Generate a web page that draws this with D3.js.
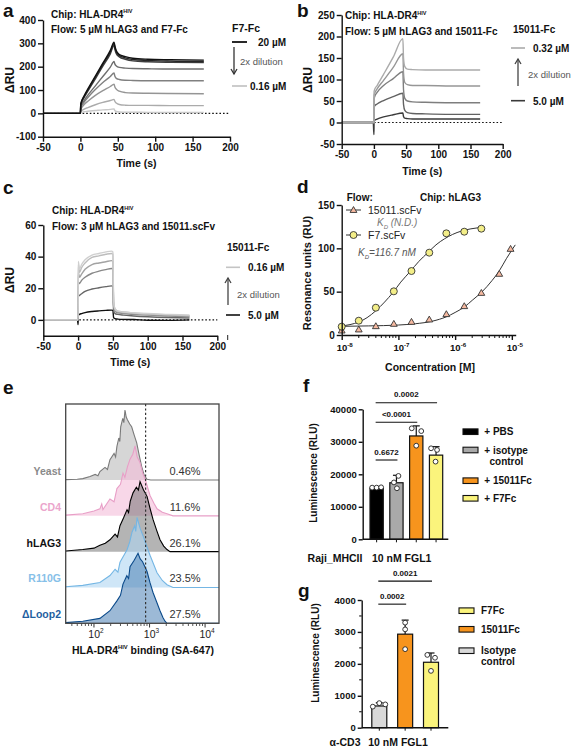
<!DOCTYPE html>
<html><head><meta charset="utf-8">
<script src="https://cdn.jsdelivr.net/npm/d3@7"></script>
<style>body{margin:0;background:#fff} svg{display:block;background:#fff}</style>
</head><body><svg id="fig" width="575" height="750"></svg>
<script>
// ================= DATA =================
// Panel a: SPR, F7-Fc (20 µM -> 0.16 µM)
const timeA = [-50,-1,0,0.5,5,10,20,30,40,45,46,48,52,60,70,90,120,165];
const concA = ["20 µM","10 µM","5 µM","2.5 µM","1.25 µM","0.63 µM","0.31 µM","0.16 µM"];
const respA = [
  [0,0,0,40,75,105,160,215,270,305,290,268,252,243,236,232,230,228],
  [0,0,0,38,72,100,155,210,263,300,284,263,248,238,231,227,224,222],
  [0,0,0,35,68,95,148,202,255,292,275,256,242,232,225,221,219,218],
  [0,0,0,30,55,78,118,158,198,222,212,203,197,194,192,191,190,190],
  [0,0,0,22,48,68,102,132,158,173,160,150,145,142,141,140,140,140],
  [0,0,0,15,38,52,77,97,115,125,114,104,95,89,87,86,85,84],
  [0,0,0,8,18,25,37,47,55,60,52,44,38,35,34,34,33,33],
  [0,0,0,3,7,9,12,15,17,19,12,8,6,5,5,4,4,4]
];
// Panel b: SPR, 15011-Fc (0.32 µM -> 5.0 µM)
const timeB = [-50,-1,0,0.3,1,5,15,30,45,46,48,52,60,80,120,165];
const concB = ["0.32 µM","0.63 µM","1.25 µM","2.5 µM","5.0 µM"];
const respB = [
  [0,0,0,72,76,86,112,152,195,150,130,124,123,122,122,122],
  [0,0,0,63,67,78,98,128,160,115,93,88,86,86,85,85],
  [0,0,0,55,59,70,86,102,118,76,56,50,48,47,46,46],
  [0,0,0,35,38,43,51,60,68,42,28,23,21,20,19,19],
  [0,0,-28,3,5,8,13,18,22,14,10,9,8,8,8,8]
];
// Panel c: SPR, 15011.scFv (0.16 µM -> 5.0 µM)
const timeC = [-50,-1,0,0.3,2,5,10,20,30,40,48,50,51,53,57,65,80,100,130,160];
const concC = ["0.16 µM","0.31 µM","0.63 µM","1.25 µM","2.5 µM","5.0 µM"];
const respC = [
  [0,0,0,37,32,35,38,41,42,43,43.5,43,12,7,5.5,5,4.5,4,3.5,3],
  [0,0,0,35,30,33,36,39.5,40.5,41.5,42,41.5,11,7,5.5,5,4.3,3.8,3.2,2.8],
  [0,0,0,30,27,29,32,35,36,36.8,37.5,37,10,6,5,4.5,4,3.5,3,2.5],
  [0,0,0,24,23,25,27,29.5,30.8,31.8,32.5,32,9,5.5,4.5,4,3.5,3,2.5,2],
  [0,0,0,15,15.5,16.5,18,19.5,20.3,21,21.5,21,6,4,3.5,3,2.5,2,1.5,1.2],
  [0,0,-3,3,3.5,4,4.6,5.3,5.7,6,6.2,6,1.5,0.8,0.5,0.3,0.2,-0.2,-0.3,0]
];
const timeTicks = [-50,0,50,100,150,200];

// Panel d: steady-state binding
const concD = [1e-8,2e-8,4e-8,8.3e-8,1.7e-7,3.5e-7,7e-7,1.45e-6,2.9e-6,6e-6,9.5e-6];
const f7RU = [9.6,16.5,31.5,50.4,73.8,95,117.3,119.2,122.7];
const s15011RU = [4.6,5.8,9.6,12.3,14.6,17.3,23.5,32.7,48,70,98.8];
const f7FitConc = [1e-8,1.4e-8,2e-8,2.8e-8,4e-8,5.7e-8,8e-8,1.1e-7,1.6e-7,2.3e-7,3.3e-7,4.6e-7,6.5e-7,9e-7,1.3e-6,1.9e-6,2.7e-6];
const f7FitRU = [10.5,12,15,20,28,38,49,61,73,85,95,104,111,116,120,122.5,124];
const s15011FitConc = [1e-8,3e-8,1e-7,2e-7,4e-7,7e-7,1e-6,1.5e-6,2e-6,3e-6,4.5e-6,6e-6,8e-6,1e-5,1.15e-5];
const s15011FitRU = [10,10.5,11.5,13,16,21,26,33,40,50,63,74,88,98,104];

// Panel e: flow histograms [intensity, % of mode]
const samplesE = ["Yeast","CD4","hLAG3","R110G","ΔLoop2"];
const pctE = ["0.46%","11.6%","26.1%","23.5%","27.5%"];
const histYeast = [[31,0.5],[50,1],[63,2],[85,5],[105,8],[118,6],[128,12],[158,18],[175,15],[194,29],[230,38],[245,33],[259,48],[280,60],[292,55],[303,76],[330,88],[345,82],[362,100],[380,90],[400,86],[440,80],[477,76],[530,64],[588,53],[650,36],[723,19],[800,7],[902,1],[1050,0],[17800,0]];
const histCD4 = [[31,1],[63,3],[100,7],[128,10],[138,17],[145,9],[194,24],[230,20],[259,39],[300,45],[333,61],[360,55],[400,70],[446,81],[500,88],[548,100],[600,84],[675,76],[760,60],[830,53],[930,40],[1021,29],[1200,18],[1365,10],[1700,5],[2065,3],[2649,0],[17800,0]];
const histLAG3 = [[31,1],[63,3],[100,5],[128,9],[160,12],[194,17],[240,25],[265,21],[294,37],[340,48],[394,60],[420,56],[450,72],[505,84],[580,92],[630,88],[675,100],[780,88],[902,79],[1020,62],[1156,46],[1350,30],[1545,17],[1800,8],[2065,3],[2338,0],[17800,0]];
const histR110G = [[31,1],[63,3],[128,7],[194,17],[240,26],[270,22],[294,36],[394,54],[440,65],[484,79],[540,88],[565,80],[596,100],[680,84],[764,74],[880,60],[1021,46],[1200,32],[1365,21],[1700,10],[2065,4],[2649,0],[17800,0]];
const histLoop2 = [[31,1],[63,3],[128,7],[194,18],[259,32],[300,40],[333,56],[390,68],[420,64],[446,81],[530,90],[621,100],[680,92],[750,88],[902,74],[1020,58],[1156,44],[1350,30],[1545,18],[1750,8],[1901,3],[2065,0],[17800,0]];
const gateE = 850;
const ticksE = [100,1000,10000];

// Panel f
const groupsF = ["+ PBS","+ isotype control","+ 15011Fc","+ F7Fc"];
const meanF = [15700,17400,31800,25900];
const errTopF = [16100,19700,34900,28500];
const pointsF = [[15900,15900,16000],[19500,17500,15700],[34150,33300,28800],[28000,27500,23900]];
const sigF = [[0,1,"0.6672",24400],[0,2,"<0.0001",36000],[0,3,"0.0002",42000]];
const ticksF = [0,10000,20000,30000,40000];

// Panel g
const groupsG = ["Isotype control","15011Fc","F7Fc"];
const meanG = [680,2930,2050];
const errTopG = [780,3370,2340];
const pointsG = [[660,770,730],[3290,3080,2460],[2280,2190,1780]];
const sigG = [[0,1,"0.0002",3870],[0,2,"0.0021",4590]];
const ticksG = [0,1000,2000,3000,4000];

// ================= DRAW =================
const FONT = '"Liberation Sans", Arial, Helvetica, sans-serif';
const svg = d3.select("#fig").attr("font-family", FONT);
const plain = d => String(d);

function rich(g, x, y, segs, o = {}) {
  const size = o.size || 10;
  const t = g.append("text").attr("x", x).attr("y", y)
    .attr("font-size", size).attr("font-weight", o.weight || "bold")
    .attr("fill", o.fill || "#111").attr("text-anchor", o.anchor || "start")
    .attr("font-family", FONT);
  if (o.italic) t.attr("font-style", "italic");
  if (o.rotate) t.attr("transform", `rotate(-90,${x},${y})`);
  let shift = 0;
  segs.forEach(s => {
    if (typeof s === "string") s = { t: s };
    const ts = t.append("tspan").text(s.t);
    const target = s.sup ? -(s.up || 0.45) * size : s.sub ? 0.3 * size : 0;
    if (target - shift !== 0) ts.attr("dy", target - shift);
    shift = target;
    if (s.sup || s.sub) ts.attr("font-size", size * (s.scale || 0.6));
    if (s.fill) ts.attr("fill", s.fill);
    if (s.style) ts.attr("font-style", s.style);
    if (s.weight) ts.attr("font-weight", s.weight);
  });
  return t;
}
function styleAxis(g, fs = 10) {
  g.attr("font-family", FONT);
  g.select(".domain").attr("stroke", "#111").attr("stroke-width", 1.4);
  g.selectAll(".tick line").attr("stroke", "#111").attr("stroke-width", 1.4);
  g.selectAll(".tick text").attr("font-size", fs).attr("font-weight", "bold").attr("fill", "#111");
}
function panelLetter(x, y, s) { rich(svg, x, y, [s], { size: 19 }); }
function arrow(g, x, y1, y2, color) {
  g.append("line").attr("x1", x).attr("x2", x).attr("y1", y1).attr("y2", y2).attr("stroke", color).attr("stroke-width", 1.3);
  const d = y2 > y1 ? -5 : 5;
  g.append("path").attr("d", `M${x - 3},${y2 + d} L${x},${y2} L${x + 3},${y2 + d}`).attr("fill", "none").attr("stroke", color).attr("stroke-width", 1.3);
}

// ---------- SPR panels ----------
function spr(c) {
  const g = svg.append("g");
  const x = d3.scaleLinear().domain([-50, 200]).range(c.xr);
  const y = d3.scaleLinear().domain(c.yd).range(c.yr);
  g.append("line").attr("x1", x(-50)).attr("x2", x(200)).attr("y1", y(0)).attr("y2", y(0))
    .attr("stroke", "#111").attr("stroke-width", 1.2).attr("stroke-dasharray", "1.6,2");
  const line = d3.line().x((d, i) => x(c.t[i])).y(d => y(d)).curve(d3.curveMonotoneX);
  c.resp.map((r, i) => i).reverse().forEach(i => {
    g.append("path").attr("d", line(c.resp[i])).attr("fill", "none")
      .attr("stroke", c.colors[i]).attr("stroke-width", 1.4);
  });
  const ya = g.append("g").attr("transform", `translate(${c.xr[0]},0)`)
    .call(d3.axisLeft(y).tickValues(c.yticks).tickFormat(plain).tickSize(5).tickSizeOuter(0).tickPadding(2));
  styleAxis(ya);
  const xa = g.append("g").attr("transform", `translate(0,${c.yr[0]})`)
    .call(d3.axisBottom(x).tickValues(timeTicks).tickFormat(plain).tickSize(5).tickSizeOuter(0).tickPadding(2));
  styleAxis(xa);
  rich(g, (c.xr[0] + c.xr[1]) / 2, c.yr[0] + 30.5, ["Time (s)"], { size: 10.5, anchor: "middle" });
  rich(g, c.ylx, c.yly, ["ΔRU"], { size: 12, anchor: "middle", rotate: true });
  rich(g, c.tx, c.ty, [{ t: "Chip: HLA-DR4" }, { t: "HIV", sup: true, scale: 0.55 }], { size: 10 });
  rich(g, c.tx, c.ty + 15.5, [c.flow], { size: 10 });
  return g;
}

const colA = ["#111", "#262626", "#3d3d3d", "#6e6e6e", "#808080", "#959595", "#ababab", "#c8c8c8"];
const gA = spr({ xr: [43, 230], yd: [-100, 400], yr: [136.7, 20], yticks: [-100, 0, 100, 200, 300, 400],
  t: timeA, resp: respA, colors: colA, ylx: 14, yly: 80, tx: 51, ty: 17.5, flow: "Flow: 5 µM hLAG3 and F7-Fc" });
rich(gA, 232, 32, ["F7-Fc"], { size: 10.5 });
gA.append("line").attr("x1", 232).attr("x2", 247).attr("y1", 42).attr("y2", 42).attr("stroke", "#111").attr("stroke-width", 1.8);
rich(gA, 258, 46, [concA[0]], { size: 10 });
arrow(gA, 234, 47, 74, "#333");
rich(gA, 240, 64.5, ["2x dilution"], { size: 9.5, weight: "normal", fill: "#555" });
gA.append("line").attr("x1", 232).attr("x2", 247).attr("y1", 86).attr("y2", 86).attr("stroke", "#c0c0c0").attr("stroke-width", 1.6);
rich(gA, 250, 90, [concA[7]], { size: 10 });

const colB = ["#ababab", "#969696", "#7e7e7e", "#626262", "#3a3a3a"];
const gB = spr({ xr: [341.7, 502.7], yd: [-50, 250], yr: [144, 15], yticks: [-50, 0, 50, 100, 150, 200, 250],
  t: timeB, resp: respB, colors: colB, ylx: 312, yly: 80, tx: 345, ty: 19, flow: "Flow: 5 µM hLAG3 and 15011-Fc" });
rich(gB, 513, 33, ["15011-Fc"], { size: 10 });
gB.append("line").attr("x1", 511).attr("x2", 525).attr("y1", 48).attr("y2", 48).attr("stroke", "#aaa").attr("stroke-width", 1.6);
rich(gB, 533, 52, [concB[0]], { size: 10 });
arrow(gB, 518, 86, 59, "#444");
rich(gB, 528, 78, ["2x dilution"], { size: 9.5, weight: "normal", fill: "#555" });
gB.append("line").attr("x1", 511).attr("x2", 525).attr("y1", 100.7).attr("y2", 100.7).attr("stroke", "#3a3a3a").attr("stroke-width", 1.6);
rich(gB, 533, 104.7, [concB[4]], { size: 10 });

const colC = ["#cfcfcf", "#bdbdbd", "#a3a3a3", "#888", "#666", "#111"];
const gC = spr({ xr: [43.3, 217.3], yd: [-10, 60], yr: [335.7, 225], yticks: [0, 20, 40, 60],
  t: timeC, resp: respC, colors: colC, ylx: 14, yly: 280, tx: 52, ty: 214, flow: "Flow: 3 µM hLAG3 and 15011.scFv" });
rich(gC, 227, 250.5, ["15011-Fc"], { size: 10 });
gC.append("line").attr("x1", 226).attr("x2", 240).attr("y1", 267.3).attr("y2", 267.3).attr("stroke", "#c4c4c4").attr("stroke-width", 1.6);
rich(gC, 248, 271.3, [concC[0]], { size: 10 });
arrow(gC, 228, 305, 278, "#444");
rich(gC, 237, 298, ["2x dilution"], { size: 9.5, weight: "normal", fill: "#555" });
gC.append("line").attr("x1", 226).attr("x2", 240).attr("y1", 315).attr("y2", 315).attr("stroke", "#111").attr("stroke-width", 1.6);
rich(gC, 248, 319, [concC[5]], { size: 10 });
gC.append("line").attr("x1", 227.7).attr("x2", 227.7).attr("y1", 335).attr("y2", 340).attr("stroke", "#222").attr("stroke-width", 1);

panelLetter(3, 17, "a");
panelLetter(297, 17, "b");
panelLetter(3, 194, "c");
panelLetter(297, 193, "d");
panelLetter(3, 394, "e");
panelLetter(303, 392, "f");
panelLetter(298, 597, "g");

// ---------- Panel d ----------
(function () {
  const g = svg.append("g");
  const x = d3.scaleLog().domain([1e-8, 1.17e-5]).range([341.7, 515.7]);
  const y = d3.scaleLinear().domain([0, 150]).range([335, 205]);
  const fit = d3.line().x(d => x(d[0])).y(d => y(d[1])).curve(d3.curveMonotoneX);
  g.append("path").attr("d", fit(d3.zip(f7FitConc, f7FitRU))).attr("fill", "none").attr("stroke", "#333").attr("stroke-width", 1);
  g.append("path").attr("d", fit(d3.zip(s15011FitConc, s15011FitRU))).attr("fill", "none").attr("stroke", "#333").attr("stroke-width", 1);
  const tri = d3.symbol(d3.symbolTriangle).size(20);
  g.selectAll(".tri").data(d3.zip(concD, s15011RU)).join("path")
    .attr("transform", d => `translate(${x(d[0])},${y(d[1])})`).attr("d", tri)
    .attr("fill", "#f6b9a0").attr("stroke", "#333").attr("stroke-width", 0.9);
  g.selectAll(".cir").data(d3.zip(concD.slice(0, f7RU.length), f7RU)).join("circle")
    .attr("cx", d => x(d[0])).attr("cy", d => y(d[1])).attr("r", 3.5)
    .attr("fill", "#f3ee88").attr("stroke", "#333").attr("stroke-width", 0.9);
  const ya = g.append("g").attr("transform", `translate(341.7,0)`)
    .call(d3.axisLeft(y).tickValues([0, 50, 100, 150]).tickFormat(plain).tickSize(5).tickSizeOuter(0).tickPadding(2));
  styleAxis(ya);
  const minor = [];
  for (let e = -8; e <= -6; e++) for (let m = 2; m <= 9; m++) minor.push(m * Math.pow(10, e));
  const xa = g.append("g").attr("transform", `translate(0,335)`)
    .call(d3.axisBottom(x).tickValues([1e-8, 1e-7, 1e-6, 1e-5]).tickFormat("").tickSize(5).tickSizeOuter(0));
  styleAxis(xa);
  minor.forEach(v => g.append("line").attr("x1", x(v)).attr("x2", x(v)).attr("y1", 335).attr("y2", 338)
    .attr("stroke", "#111").attr("stroke-width", 1));
  [-8, -7, -6, -5].forEach(e => rich(g, x(Math.pow(10, e)) + 3, 350.5,
    [{ t: "10" }, { t: String(e), sup: true, scale: 0.65, up: 0.4 }], { size: 9.5, anchor: "middle" }));
  rich(g, 430, 371, ["Concentration [M]"], { size: 10.5, anchor: "middle" });
  rich(g, 311, 273, ["Resonance units (RU)"], { size: 11, anchor: "middle", rotate: true });
  rich(g, 346.7, 201, ["Flow:"], { size: 10 });
  rich(g, 420, 201, ["Chip: hLAG3"], { size: 10 });
  // legend
  g.append("line").attr("x1", 346).attr("x2", 361).attr("y1", 210).attr("y2", 210).attr("stroke", "#333").attr("stroke-width", 1);
  g.append("path").attr("transform", "translate(353.5,210.5)").attr("d", tri).attr("fill", "#f6b9a0").attr("stroke", "#333").attr("stroke-width", 0.9);
  rich(g, 368, 214, ["15011.scFv"], { size: 10.5, weight: "normal", fill: "#222" });
  rich(g, 377, 225.5, [{ t: "K" }, { t: "D", sub: true, scale: 0.6 }, { t: " (N.D.)" }], { size: 10, weight: "normal", italic: true, fill: "#777" });
  g.append("line").attr("x1", 346).attr("x2", 361).attr("y1", 235).attr("y2", 235).attr("stroke", "#333").attr("stroke-width", 1);
  g.append("circle").attr("cx", 353.5).attr("cy", 235).attr("r", 3.5).attr("fill", "#f3ee88").attr("stroke", "#333").attr("stroke-width", 0.9);
  rich(g, 368, 239, ["F7.scFv"], { size: 10.5, weight: "normal", fill: "#222" });
  rich(g, 358, 255.5, [{ t: "K" }, { t: "D", sub: true, scale: 0.6 }, { t: "=116.7 nM" }], { size: 10, weight: "normal", italic: true, fill: "#555" });
})();

// ---------- Panel e ----------
(function () {
  const g = svg.append("g");
  const x = d3.scaleLog().domain([31, 17800]).range([65.7, 219]);
  const base = d3.scaleLinear().domain([0, 4]).range([480, 623.3]);
  const h = d3.scaleLinear().domain([0, 100]).range([0, 70]);
  const hists = [histYeast, histCD4, histLAG3, histR110G, histLoop2];
  const fills = ["#c4c4c4", "#f4bcd8", "#6a6a6a", "#afd5f1", "#4a80b5"];
  const fop = [0.7, 0.6, 0.5, 0.6, 0.55];
  const strokes = ["#7a7a7a", "#e89fc7", "#000", "#74b6e4", "#0b4a8a"];
  const labCol = ["#8a8a8a", "#eba6cc", "#111", "#86c0e8", "#1f5f9f"];
  g.append("defs").append("clipPath").attr("id", "clipE").append("rect")
    .attr("x", 65.7).attr("y", 404).attr("width", 153.3).attr("height", 219.3);
  const inner = g.append("g").attr("clip-path", "url(#clipE)");
  hists.forEach((hd, i) => {
    const b = base(i);
    const area = d3.area().x(d => x(d[0])).y0(b).y1(d => b - h(d[1]));
    const ln = d3.line().x(d => x(d[0])).y(d => b - h(d[1]));
    inner.append("path").attr("d", area(hd)).attr("fill", fills[i]).attr("fill-opacity", fop[i]);
    inner.append("path").attr("d", ln(hd)).attr("fill", "none").attr("stroke", strokes[i]).attr("stroke-width", 1.1);
    rich(g, 61, b - 5, [samplesE[i]], { size: 10.5, anchor: "end", fill: labCol[i] });
    rich(g, 185, b - 5, [pctE[i]], { size: 11, anchor: "middle", weight: "normal", fill: "#333" });
  });
  g.append("line").attr("x1", x(gateE)).attr("x2", x(gateE)).attr("y1", 404).attr("y2", 623.3)
    .attr("stroke", "#333").attr("stroke-width", 1.2).attr("stroke-dasharray", "2.2,2.2");
  g.append("rect").attr("x", 65.7).attr("y", 404).attr("width", 153.3).attr("height", 219.3)
    .attr("fill", "none").attr("stroke", "#444").attr("stroke-width", 1.3);
  const minor = [];
  for (let e = 1; e <= 4; e++) for (let m = 2; m <= 9; m++) { const v = m * Math.pow(10, e); if (v > 31 && v < 17800) minor.push(v); }
  minor.forEach(v => g.append("line").attr("x1", x(v)).attr("x2", x(v)).attr("y1", 623.3).attr("y2", 626).attr("stroke", "#444").attr("stroke-width", 0.9));
  ticksE.forEach(v => {
    g.append("line").attr("x1", x(v)).attr("x2", x(v)).attr("y1", 623.3).attr("y2", 627.5).attr("stroke", "#444").attr("stroke-width", 1.1);
    rich(g, x(v) + 2, 637.5, [{ t: "10" }, { t: String(Math.round(Math.log10(v))), sup: true, scale: 0.62, up: 0.42 }], { size: 10.5, anchor: "middle", weight: "normal", fill: "#222" });
  });
  rich(g, 143, 654, [{ t: "HLA-DR4" }, { t: "HIV", sup: true, scale: 0.55 }, { t: " binding (SA-647)" }], { size: 10.5, anchor: "middle" });
})();

// ---------- Bar panels ----------
function bars(c) {
  const g = svg.append("g");
  const x = d3.scaleBand().domain(c.groups).range(c.xr).paddingInner(c.pad).paddingOuter(0);
  const y = d3.scaleLinear().domain(c.yd).range(c.yr);
  const bw = x.bandwidth();
  c.groups.forEach((k, i) => {
    const cx = x(k) + bw / 2;
    g.append("line").attr("x1", cx).attr("x2", cx).attr("y1", y(c.mean[i])).attr("y2", y(c.errTop[i])).attr("stroke", "#111").attr("stroke-width", 1.2);
    g.append("line").attr("x1", cx - 3.5).attr("x2", cx + 3.5).attr("y1", y(c.errTop[i])).attr("y2", y(c.errTop[i])).attr("stroke", "#111").attr("stroke-width", 1.2);
    g.append("rect").attr("x", x(k)).attr("y", y(c.mean[i])).attr("width", bw).attr("height", y(0) - y(c.mean[i]))
      .attr("fill", c.colors[i]).attr("stroke", "#111").attr("stroke-width", 1.2);
    c.points[i].forEach((v, j) => {
      g.append("circle").attr("cx", cx + c.jit[i][j]).attr("cy", y(v)).attr("r", 2.4)
        .attr("fill", "#fff").attr("stroke", "#222").attr("stroke-width", 0.9);
    });
    g.append("line").attr("x1", cx).attr("x2", cx).attr("y1", y(0)).attr("y2", y(0) + 3).attr("stroke", "#111").attr("stroke-width", 1);
  });
  c.sig.forEach(([a, b, lab, v]) => {
    const x1 = x(c.groups[a]) + bw / 2, x2 = x(c.groups[b]) + bw / 2;
    g.append("line").attr("x1", x1 - 1).attr("x2", x2 + 1).attr("y1", y(v)).attr("y2", y(v)).attr("stroke", "#111").attr("stroke-width", 1.1);
    rich(g, (x1 + x2) / 2, y(v) - 5.5, [lab], { size: 8, anchor: "middle" });
  });
  const ya = g.append("g").attr("transform", `translate(${c.ax},0)`)
    .call(d3.axisLeft(y).tickValues(c.ticks).tickFormat(plain).tickSize(4).tickSizeOuter(0).tickPadding(2));
  styleAxis(ya, 9.5);
  if (c.minor) c.minor.forEach(v => g.append("line").attr("x1", c.ax - 2.5).attr("x2", c.ax).attr("y1", y(v)).attr("y2", y(v)).attr("stroke", "#111").attr("stroke-width", 1.1));
  g.append("line").attr("x1", c.ax).attr("x2", c.axEnd).attr("y1", y(0)).attr("y2", y(0)).attr("stroke", "#111").attr("stroke-width", 1.4);
  rich(g, c.ylx, c.yly, ["Luminescence (RLU)"], { size: 10, anchor: "middle", rotate: true });
  return { g, x, y };
}

const colF = ["#000", "#a9a9a9", "#f7941d", "#fbf47c"];
const bF = bars({ groups: groupsF, mean: meanF, errTop: errTopF, points: pointsF, sig: sigF, colors: colF,
  xr: [370, 442.7], pad: 0.33, yd: [0, 40000], yr: [539.3, 409.3], ticks: ticksF, ax: 362.7, axEnd: 448.3,
  jit: [[-4.5, 0, 4.5], [2, -2.5, 0.5], [-4.5, 5, 0], [-5, 1, -0.5]], ylx: 317, yly: 473 });
rich(bF.g, 335, 562, ["Raji_MHCII"], { size: 10.5, anchor: "middle" });
rich(bF.g, 401.7, 562, ["10 nM FGL1"], { size: 10.5, anchor: "middle" });
[[431.7, ["+ PBS"]], [450, ["+ isotype", "control"]], [480.7, ["+ 15011Fc"]], [498.3, ["+ F7Fc"]]].forEach(([yy, labs], i) => {
  bF.g.append("rect").attr("x", 463).attr("y", yy - 2.8).attr("width", 15).attr("height", 5.6).attr("fill", colF[i]).attr("stroke", "#111").attr("stroke-width", 1.1);
  rich(bF.g, 484.3, yy + 3.5, [labs[0]], { size: 10 });
  if (labs[1]) rich(bF.g, 489.5, yy + 15.2, [labs[1]], { size: 10 });
});

const colG = ["#d9d9d9", "#f7941d", "#fbf47c"];
const bG = bars({ groups: groupsG, mean: meanG, errTop: errTopG, points: pointsG, sig: sigG, colors: colG,
  xr: [371.8, 438.5], pad: 0.42, yd: [0, 4000], yr: [727.7, 600], ticks: ticksG, ax: 361.7, axEnd: 448.3,
  minor: [500, 1500, 2500, 3500], jit: [[-6.5, 0, 6], [0, 0, 0], [-3.7, 4, 0]], ylx: 318.5, yly: 653 });
rich(bG.g, 345, 745.5, ["α-CD3"], { size: 10.5, anchor: "middle" });
rich(bG.g, 398, 745.5, ["10 nM FGL1"], { size: 10.5, anchor: "middle" });
[[610.7, ["F7Fc"], 2], [629.3, ["15011Fc"], 1], [650.7, ["Isotype", "control"], 0]].forEach(([yy, labs, ci]) => {
  bG.g.append("rect").attr("x", 459).attr("y", yy - 2.8).attr("width", 15).attr("height", 5.6).attr("fill", colG[ci]).attr("stroke", "#111").attr("stroke-width", 1.1);
  rich(bG.g, 481, yy + 3.5, [labs[0]], { size: 10 });
  if (labs[1]) rich(bG.g, 481, yy + 14.5, [labs[1]], { size: 10 });
});
</script></body></html>
